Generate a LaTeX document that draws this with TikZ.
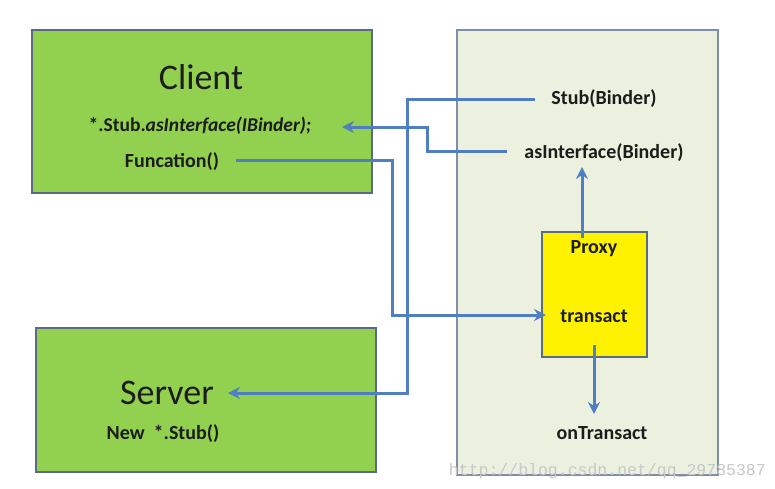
\documentclass[tikz,border=0pt]{standalone}
\usepackage{fontspec}
\setmainfont{Carlito}
\newfontfamily\wmfont{Liberation Mono}
\usetikzlibrary{arrows.meta}
\definecolor{boxgreen}{HTML}{92D050}
\definecolor{panelfill}{HTML}{EBF1DE}
\definecolor{panelline}{HTML}{7D8DAA}
\definecolor{boxline}{HTML}{5A6A80}
\definecolor{conncol}{HTML}{4F7EC2}
\definecolor{txt}{HTML}{1C1C1C}
\tikzset{
  greenbox/.style={draw=boxline, line width=2pt, fill=boxgreen},
  conn/.style={draw=conncol, line width=3pt, -{Stealth[length=12pt,width=12pt,inset=4pt]}},
  lbl/.style={text=txt, font=\fontsize{20}{24}\selectfont\bfseries, inner sep=0pt},
  big/.style={text=txt, font=\fontsize{36}{42}\selectfont, inner sep=0pt},
}
\begin{document}
\begin{tikzpicture}[x=1pt,y=-1pt]
\useasboundingbox (0,0) rectangle (775,488);
\fill[white] (0,0) rectangle (775,488);
% boxes
\draw[greenbox] (32,30) rectangle (372,193);
\draw[greenbox] (36,328) rectangle (376,472);
\draw[draw=panelline, line width=2pt, fill=panelfill] (457,30) rectangle (718,475);
\draw[draw=boxline, line width=2pt, fill=yellow] (542,232) rectangle (647,357);
% texts
\node[big] (client) at (201,77) {Client};
\node[lbl, font=\fontsize{19.5}{23}\selectfont\bfseries] (asif) at (200,126) {*.Stub.\textit{asInterface(IBinder);}};
\node[lbl] (func) at (172,162) {Funcation()};
\node[big] (server) at (167,393) {Server};
\node[lbl] (newstub) at (163,434) {New\ \ *.Stub()};
\node[lbl] (stub) at (604,99) {Stub(Binder)};
\node[lbl] (asi) at (604,153) {asInterface(Binder)};
\node[lbl] (proxy) at (594,249) {Proxy};
\node[lbl] (trans) at (594,316) {transact};
\node[lbl] (ontr) at (602,433) {onTransact};
\node[text=black!22, font=\wmfont\fontsize{16.5}{18}\selectfont, inner sep=0pt, anchor=base east] (wm) at (766,475) {http://blog.csdn.net/qq\_29785387};
% connector coordinates
\coordinate (s0) at (535,99);
\coordinate (k1) at (407,99);
\coordinate (srvin) at (228,393);
\coordinate (a0) at (507,151);
\coordinate (k2) at (427,151);
\coordinate (cliin) at (342,127);
\coordinate (f0) at (236,160);
\coordinate (k3) at (392,160);
\coordinate (tin) at (546,315);
\coordinate (p0) at (582,238);
\coordinate (aup) at (582,167);
\coordinate (t0) at (594,345);
\coordinate (odown) at (594,414);
% connectors
\draw[conn] (s0) -- (k1) |- (srvin);
\draw[conn] (a0) -- (k2) |- (cliin);
\draw[conn] (f0) -- (k3) |- (tin);
\draw[conn] (p0) -- (aup);
\draw[conn] (t0) -- (odown);
\end{tikzpicture}
\end{document}
